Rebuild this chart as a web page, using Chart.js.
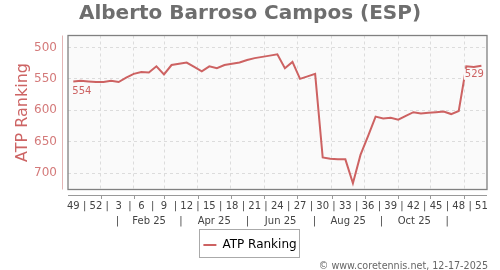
<!DOCTYPE html>
<html><head><meta charset="utf-8">
<script src="https://cdn.jsdelivr.net/npm/chart.js@4.4.1/dist/chart.umd.min.js"></script>
<style>html,body{margin:0;padding:0;background:#fff;}#wrap{width:500px;height:270px;}</style>
</head><body><div id="wrap"><canvas id="c" width="500" height="270"></canvas></div>
<script>
const titleText = "Alberto Barroso Campos (ESP)";
const seriesName = "ATP Ranking";
const footerText = "\u00A9 www.coretennis.net, 12-17-2025";
// weekly ATP ranking, week 49/2024 .. week 51/2025
const rankings = [554,553,554,555,555,553,555,548,542,539,540,530,543,528,526,524,531,538,530,533,528,526,524,520,517,515,513,511,533,523,550,546,542,675,677,678,678,716,671,641,610,613,612,615,609,603,605,604,603,602,606,601,530,531,529];
const weekTickLabels = ["49","52","3","6","9","12","15","18","21","24","27","30","33","36","39","42","45","48","51"];
const monthTickLabels = ["|","Feb 25","|","Apr 25","|","Jun 25","|","Aug 25","|","Oct 25","|"];
// month starts (Jan 1 .. Dec 1, 2025) in week-index units
const monthStarts = [3.62,8.03,12.03,16.45,20.85,25.25,29.62,34.17,38.57,42.97,47.26,51.70];
const yTicks = [500,550,600,650,700];

const FONT = "DejaVu Sans";
const lineColor = "rgb(205,98,98)";
Chart.defaults.font.family = FONT;

const weekTickPos = [];
weekTickLabels.forEach((l, j) => { weekTickPos.push(3*j); if (j < weekTickLabels.length-1) weekTickPos.push(3*j+1.5); });
const monthMid = [];
for (let i = 0; i < monthStarts.length-1; i++) monthMid.push((monthStarts[i]+monthStarts[i+1])/2);

const XMIN = -0.7, XMAX = 54.74;

const decor = {
  id: 'decor',
  beforeDraw(chart) {
    const {ctx, chartArea: a} = chart;
    ctx.save();
    ctx.fillStyle = '#fafafa';
    ctx.fillRect(a.left, a.top, a.right - a.left, a.bottom - a.top);
    ctx.restore();
  },
  beforeDatasetsDraw(chart) {
    const {ctx, chartArea: a} = chart;
    ctx.save();
    ctx.strokeStyle = '#808080';
    ctx.lineWidth = 1.3;
    ctx.strokeRect(a.left, a.top, a.right - a.left, a.bottom - a.top);
    ctx.strokeStyle = '#e2b4b4';
    ctx.lineWidth = 1;
    ctx.beginPath();
    ctx.moveTo(a.left - 5.5, a.top); ctx.lineTo(a.left - 5.5, a.bottom);
    ctx.stroke();
    const yb = Math.round(a.bottom + 5.5) + 0.5;
    ctx.strokeStyle = '#999';
    ctx.beginPath();
    ctx.moveTo(a.left, yb); ctx.lineTo(a.right, yb);
    const xs = chart.scales.xg;
    monthStarts.forEach(v => {
      const px = Math.round(xs.getPixelForValue(v)) + 0.5;
      ctx.moveTo(px, yb); ctx.lineTo(px, yb + 3.5);
    });
    ctx.stroke();
    ctx.restore();
  },
  afterDatasetsDraw(chart) {
    const {ctx} = chart;
    const meta = chart.getDatasetMeta(0);
    const p0 = meta.data[0], pN = meta.data[meta.data.length-1];
    ctx.save();
    ctx.font = '10px ' + FONT;
    ctx.textBaseline = 'middle';
    const lab = (txt, x, y, align) => {
      const w = ctx.measureText(txt).width;
      const lx = align === 'left' ? x : x - w;
      ctx.fillStyle = '#fafafa';
      ctx.fillRect(lx - 1, y - 5.5, w + 2, 11);
      ctx.fillStyle = lineColor;
      ctx.textAlign = 'left';
      ctx.fillText(txt, lx, y);
    };
    lab(String(rankings[0]), p0.x - 1, p0.y + 10, 'left');
    lab(String(rankings[rankings.length-1]), pN.x + 2.5, pN.y + 8.6, 'right');
    ctx.restore();
  },
  afterDraw(chart) {
    const {ctx} = chart;
    ctx.save();
    const hb = chart.legend && chart.legend.legendHitBoxes && chart.legend.legendHitBoxes[0];
    if (hb) {
      ctx.strokeStyle = '#aaa';
      ctx.lineWidth = 1;
      const cy = hb.top + hb.height/2;
      ctx.strokeRect(Math.round(hb.left - 4) + 0.5, Math.round(cy - 16) + 0.5, Math.round(hb.width + 7), 28);
    }
    ctx.font = '9.6px ' + FONT;
    ctx.fillStyle = '#666';
    ctx.textAlign = 'right';
    ctx.textBaseline = 'middle';
    ctx.fillText(footerText, 488, 266);
    ctx.restore();
  }
};

const sharedX = () => ({ type: 'linear', min: XMIN, max: XMAX, position: 'bottom' });

new Chart(document.getElementById('c'), {
  type: 'line',
  data: {
    datasets: [{
      label: seriesName,
      data: rankings.map((v, i) => ({x: i, y: v})),
      borderColor: lineColor,
      backgroundColor: lineColor,
      borderWidth: 2,
      pointRadius: 0,
      tension: 0,
      fill: false,
      xAxisID: 'x', yAxisID: 'y'
    }]
  },
  options: {
    responsive: false,
    animation: false,
    devicePixelRatio: 1,
    events: [],
    layout: { padding: { left: 13, right: 13, top: 0, bottom: 9 } },
    plugins: {
      title: { display: true, text: titleText, color: '#6e6e6e', font: { size: 20, weight: 'bold', family: FONT }, padding: { top: 2, bottom: 9.5 } },
      legend: {
        display: true, position: 'bottom',
        labels: {
          boxWidth: 13, boxHeight: 2, padding: 10, color: '#222', font: { size: 12, family: FONT },
          generateLabels: () => [{ text: seriesName, fillStyle: lineColor, strokeStyle: lineColor, lineWidth: 0, hidden: false, datasetIndex: 0 }]
        }
      },
      tooltip: { enabled: false }
    },
    scales: {
      xg: Object.assign(sharedX(), {
        weight: 0,
        afterBuildTicks: s => { s.ticks = monthStarts.map(v => ({value: v})); },
        ticks: { display: false },
        grid: { display: true, drawOnChartArea: true, drawTicks: false, color: '#dcdcdc', lineWidth: 1 },
        border: { display: false, dash: [3, 3] },
        afterFit: s => { s.height = 0; }
      }),
      x: Object.assign(sharedX(), {
        weight: 1,
        afterBuildTicks: s => { s.ticks = weekTickPos.map(v => ({value: v})); },
        ticks: { autoSkip: false, maxRotation: 0, minRotation: 0, padding: 11, color: '#444', font: { size: 10, family: FONT },
          callback: (v, i) => (i % 2 === 0 ? weekTickLabels[i/2] : '|') },
        grid: { display: false, drawTicks: false },
        border: { display: false },
        afterFit: s => { s.height = 22; }
      }),
      xm: Object.assign(sharedX(), {
        weight: 2,
        afterBuildTicks: s => { s.ticks = monthMid.map(v => ({value: v})); },
        ticks: { autoSkip: false, maxRotation: 0, minRotation: 0, padding: 4, color: '#444', font: { size: 10, family: FONT },
          callback: (v, i) => monthTickLabels[i] },
        grid: { display: false, drawTicks: false },
        border: { display: false },
        afterFit: s => { s.height = 17.5; }
      }),
      y: {
        type: 'linear', position: 'left', reverse: true, min: 481, max: 726,
        afterBuildTicks: s => { s.ticks = yTicks.map(v => ({value: v})); },
        ticks: { padding: 11, color: 'rgb(212,122,122)', font: { size: 12, family: FONT } },
        grid: { display: true, drawTicks: false, color: '#dcdcdc', lineWidth: 1 },
        border: { display: false, dash: [3, 3] },
        title: { display: true, text: seriesName, color: 'rgb(205,100,100)', font: { size: 16, family: FONT }, padding: 0 },
        afterFit: s => { s.width = 55; }
      }
    }
  },
  plugins: [decor]
});
</script>
</body></html>
